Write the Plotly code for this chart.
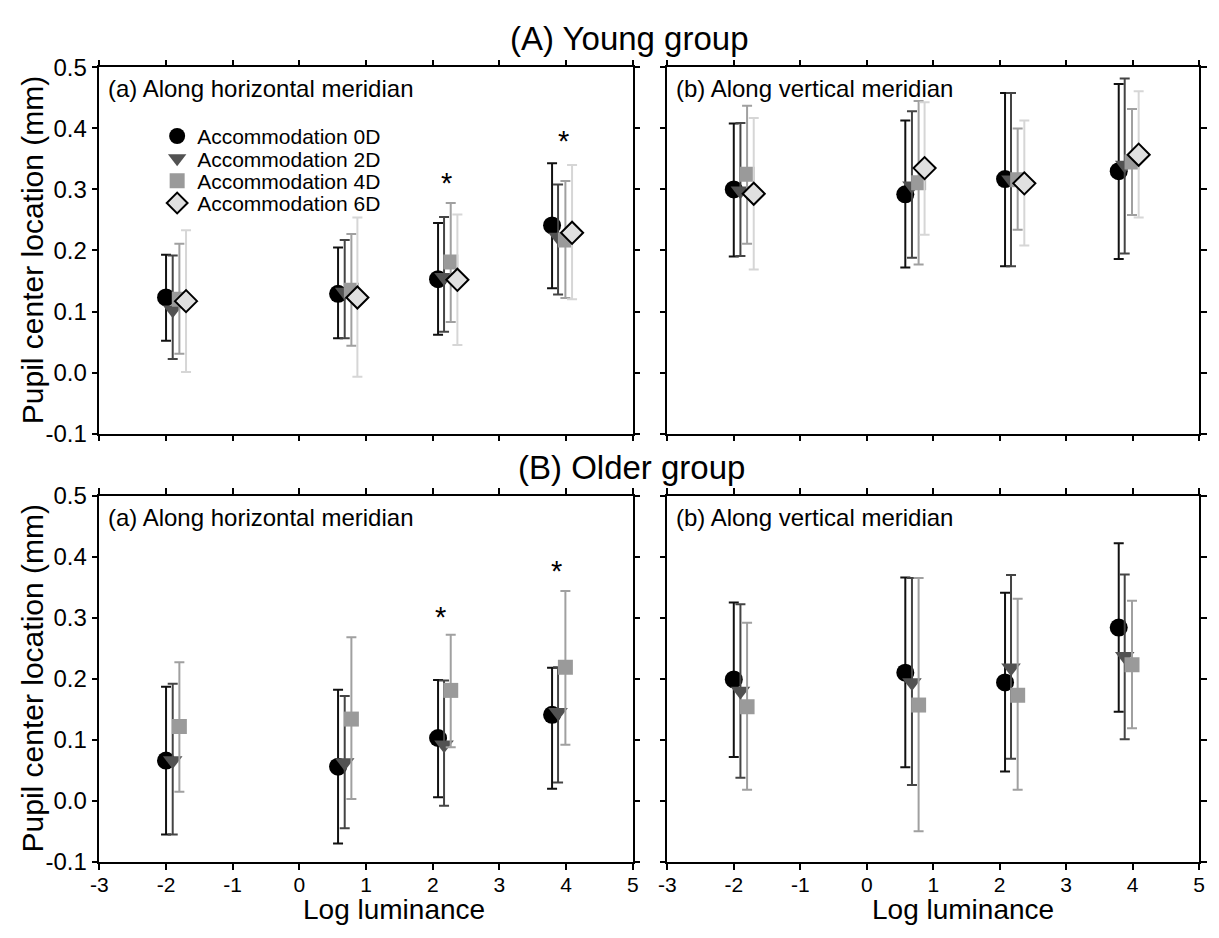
import numpy as np
import plotly.graph_objects as go

FONT = "Liberation Sans, Arial, sans-serif"
W, H = 1219, 938

# ---------------- data ----------------
series_names = ["Accommodation 0D", "Accommodation 2D", "Accommodation 4D", "Accommodation 6D"]

# x positions (log luminance, dodged per accommodation level)
x_0D = [-2.0, 0.58, 2.08, 3.79]
x_2D = [-1.9, 0.68, 2.17, 3.88]
x_4D = [-1.8, 0.78, 2.27, 3.99]
x_6D = [-1.7, 0.87, 2.37, 4.09]

# (A) Young group, (a) horizontal meridian: mean, upper, lower
yh_0D = [0.123, 0.129, 0.153, 0.241]; yh_0D_hi = [0.193, 0.205, 0.245, 0.343]; yh_0D_lo = [0.052, 0.056, 0.062, 0.138]
yh_2D = [0.103, 0.132, 0.156, 0.222]; yh_2D_hi = [0.192, 0.217, 0.255, 0.308]; yh_2D_lo = [0.022, 0.056, 0.067, 0.128]
yh_4D = [0.120, 0.135, 0.181, 0.217]; yh_4D_hi = [0.211, 0.227, 0.278, 0.314]; yh_4D_lo = [0.031, 0.044, 0.083, 0.122]
yh_6D = [0.117, 0.123, 0.152, 0.229]; yh_6D_hi = [0.233, 0.254, 0.259, 0.340]; yh_6D_lo = [0.001, -0.007, 0.045, 0.120]

# (A) Young group, (b) vertical meridian
yv_0D = [0.300, 0.292, 0.317, 0.330]; yv_0D_hi = [0.408, 0.413, 0.458, 0.473]; yv_0D_lo = [0.190, 0.172, 0.174, 0.186]
yv_2D = [0.298, 0.306, 0.316, 0.340]; yv_2D_hi = [0.409, 0.428, 0.458, 0.482]; yv_2D_lo = [0.191, 0.188, 0.174, 0.195]
yv_4D = [0.325, 0.311, 0.316, 0.345]; yv_4D_hi = [0.437, 0.445, 0.400, 0.432]; yv_4D_lo = [0.211, 0.177, 0.234, 0.258]
yv_6D = [0.293, 0.335, 0.310, 0.357]; yv_6D_hi = [0.417, 0.443, 0.413, 0.461]; yv_6D_lo = [0.169, 0.226, 0.208, 0.254]

# (B) Older group, (a) horizontal meridian
oh_0D = [0.066, 0.056, 0.103, 0.141]; oh_0D_hi = [0.187, 0.182, 0.198, 0.218]; oh_0D_lo = [-0.055, -0.070, 0.006, 0.020]
oh_2D = [0.066, 0.063, 0.092, 0.145]; oh_2D_hi = [0.192, 0.172, 0.197, 0.219]; oh_2D_lo = [-0.055, -0.045, -0.008, 0.030]
oh_4D = [0.122, 0.134, 0.181, 0.219]; oh_4D_hi = [0.227, 0.268, 0.272, 0.344]; oh_4D_lo = [0.015, 0.003, 0.088, 0.092]

# (B) Older group, (b) vertical meridian
ov_0D = [0.199, 0.210, 0.194, 0.284]; ov_0D_hi = [0.325, 0.366, 0.341, 0.422]; ov_0D_lo = [0.072, 0.055, 0.048, 0.146]
ov_2D = [0.180, 0.194, 0.218, 0.237]; ov_2D_hi = [0.322, 0.365, 0.370, 0.371]; ov_2D_lo = [0.038, 0.026, 0.069, 0.101]
ov_4D = [0.154, 0.157, 0.173, 0.223]; ov_4D_hi = [0.292, 0.365, 0.331, 0.328]; ov_4D_lo = [0.018, -0.050, 0.018, 0.119]

# significance markers
star_yh_x = [2.20, 3.96]; star_yh_y = [0.323, 0.392]
star_oh_x = [2.12, 3.85]; star_oh_y = [0.315, 0.390]

x_ticks = [-3, -2, -1, 0, 1, 2, 3, 4, 5]
y_ticks = [-0.1, 0.0, 0.1, 0.2, 0.3, 0.4, 0.5]
y_tick_text = ["-0.1", "0.0", "0.1", "0.2", "0.3", "0.4", "0.5"]

# ---------------- styles ----------------
styles = [
    dict(marker=dict(symbol="circle", size=18, color="#000000"), ecolor="#111111"),
    dict(marker=dict(symbol="triangle-down", size=17, color="#525252"), ecolor="#444444"),
    dict(marker=dict(symbol="square", size=15, color="#9a9a9a"), ecolor="#a0a0a0"),
    dict(marker=dict(symbol="diamond", size=17, color="#e0e0e0", line=dict(color="#000000", width=2)), ecolor="#d6d6d6"),
]
xs = [x_0D, x_2D, x_4D, x_6D]

panels = [
    ("x", "y", [(yh_0D, yh_0D_hi, yh_0D_lo), (yh_2D, yh_2D_hi, yh_2D_lo), (yh_4D, yh_4D_hi, yh_4D_lo), (yh_6D, yh_6D_hi, yh_6D_lo)], True),
    ("x2", "y2", [(yv_0D, yv_0D_hi, yv_0D_lo), (yv_2D, yv_2D_hi, yv_2D_lo), (yv_4D, yv_4D_hi, yv_4D_lo), (yv_6D, yv_6D_hi, yv_6D_lo)], False),
    ("x3", "y3", [(oh_0D, oh_0D_hi, oh_0D_lo), (oh_2D, oh_2D_hi, oh_2D_lo), (oh_4D, oh_4D_hi, oh_4D_lo)], False),
    ("x4", "y4", [(ov_0D, ov_0D_hi, ov_0D_lo), (ov_2D, ov_2D_hi, ov_2D_lo), (ov_4D, ov_4D_hi, ov_4D_lo)], False),
]

fig = go.Figure()
legend_ids = ["legend", "legend2", "legend3", "legend4"]
for xa, ya, sers, show in panels:
    for i, (m, hi, lo) in enumerate(sers):
        m = np.array(m); hi = np.array(hi); lo = np.array(lo)
        st = styles[i]
        fig.add_trace(go.Scatter(
            x=xs[i], y=m, mode="markers", name=series_names[i],
            marker=st["marker"],
            error_y=dict(type="data", symmetric=False, array=hi - m, arrayminus=m - lo,
                         color=st["ecolor"], thickness=2, width=5),
            xaxis=xa, yaxis=ya, showlegend=show, legend=legend_ids[i],
        ))

def px_x(p):
    return p / W

def px_y(p):
    return 1 - p / H

xdom_l = [px_x(91.5), px_x(631.5)]
xdom_r = [px_x(666.5), px_x(1205)]
ydom_t = [px_y(432), px_y(55)]
ydom_b = [px_y(873), px_y(496)]

ax_common = dict(showline=True, linecolor="black", linewidth=1.5, mirror="allticks",
                 ticks="outside", ticklen=6, tickwidth=1.5, tickcolor="black",
                 showgrid=False, zeroline=False)

def xaxis(dom, anchor, labels):
    return dict(ax_common, domain=dom, anchor=anchor, range=[-3, 5], tickmode="array",
                tickvals=x_ticks, ticktext=[str(t) for t in x_ticks], showticklabels=labels,
                ticklabelstandoff=-3,
                tickfont=dict(size=21, family=FONT, color="black"))

def yaxis(dom, anchor, labels):
    return dict(ax_common, domain=dom, anchor=anchor, range=[-0.1, 0.5], tickmode="array",
                tickvals=y_ticks, ticktext=y_tick_text, showticklabels=labels,
                tickfont=dict(size=24, family=FONT, color="black"))

legend_rows = [126, 149, 172, 195]
legend_layout = {}
for lid, row in zip(legend_ids, legend_rows):
    legend_layout[lid] = dict(x=px_x(150), xanchor="left", y=px_y(row), yanchor="middle",
                              bgcolor="rgba(0,0,0,0)", borderwidth=0,
                              font=dict(size=21, family=FONT, color="black"),
                              tracegroupgap=0)

ann = []
def add_text(text, x, y, size, xanchor="center", angle=0):
    ann.append(dict(text=text, x=x, y=y, xref="paper", yref="paper", showarrow=False,
                    xanchor=xanchor, yanchor="middle", textangle=angle,
                    font=dict(size=size, family=FONT, color="black")))

add_text("(A) Young group", px_x(628), px_y(25), 33)
add_text("(B) Older group", px_x(630), px_y(467), 33)
add_text("(a) Along horizontal meridian", px_x(98), px_y(77), 24, "left")
add_text("(b) Along vertical meridian", px_x(673), px_y(77), 24, "left")
add_text("(a) Along horizontal meridian", px_x(98), px_y(518), 24, "left")
add_text("(b) Along vertical meridian", px_x(673), px_y(518), 24, "left")
add_text("Pupil center location (mm)", px_x(24), px_y(243.5), 30, "center", -90)
add_text("Pupil center location (mm)", px_x(24), px_y(684.5), 30, "center", -90)
add_text("Log luminance", px_x(390), px_y(922), 28)
add_text("Log luminance", px_x(966), px_y(922), 28)

for sx, sy, xr, yr in [(star_yh_x, star_yh_y, "x", "y"), (star_oh_x, star_oh_y, "x3", "y3")]:
    for a, b in zip(sx, sy):
        ann.append(dict(text="*", x=a, y=b, xref=xr, yref=yr, showarrow=False, yshift=-8,
                        font=dict(size=29, family=FONT, color="black")))

fig.update_layout(
    width=W, height=H, autosize=False,
    margin=dict(l=0, r=0, t=0, b=0),
    paper_bgcolor="white", plot_bgcolor="white",
    font=dict(family=FONT, color="black"),
    xaxis=xaxis(xdom_l, "y", False), yaxis=yaxis(ydom_t, "x", True),
    xaxis2=xaxis(xdom_r, "y2", False), yaxis2=yaxis(ydom_t, "x2", False),
    xaxis3=xaxis(xdom_l, "y3", True), yaxis3=yaxis(ydom_b, "x3", True),
    xaxis4=xaxis(xdom_r, "y4", True), yaxis4=yaxis(ydom_b, "x4", False),
    annotations=ann,
    **legend_layout,
)

fig.write_html("out.html", config={"displayModeBar": False},
               post_script="document.body.style.margin='0px';document.body.style.overflow='hidden';")
